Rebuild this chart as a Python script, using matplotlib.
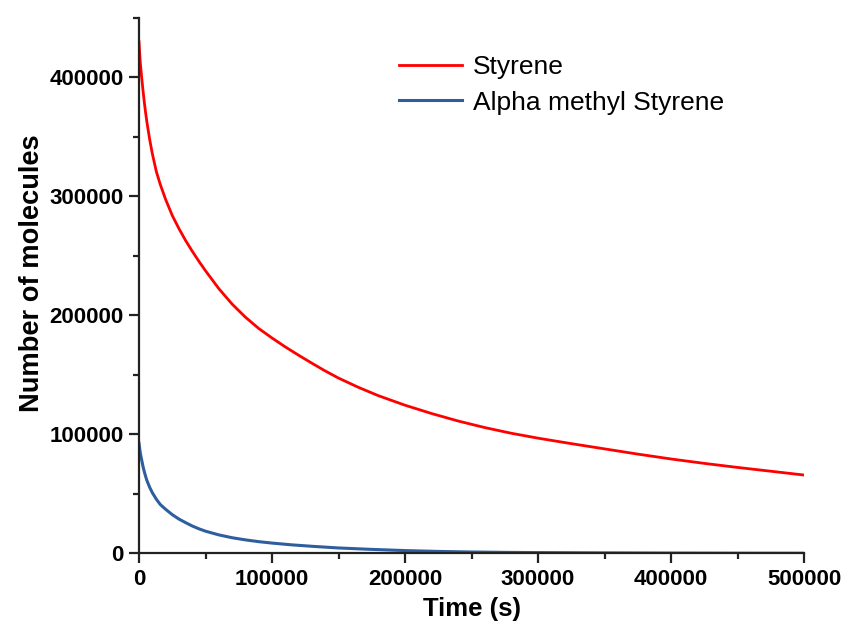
import matplotlib
matplotlib.use("Agg")
import matplotlib.pyplot as plt
from matplotlib.ticker import MultipleLocator

time_s = [0, 500, 1000, 2000, 3000, 4000, 5000, 6000, 8000, 10000, 13000,
          16000, 20000, 25000, 30000, 35000, 40000, 45000, 50000, 60000,
          70000, 80000, 90000, 100000, 110000, 120000, 130000, 140000, 150000,
          165000, 180000, 200000, 220000, 240000, 260000, 280000, 300000,
          325000, 350000, 375000, 400000, 425000, 450000, 475000, 500000]
styrene = [430000, 420000, 412000, 400000, 389000, 379000, 370000, 362000,
           348000, 336000, 321000, 310000, 297500, 284000, 273000, 263000,
           254000, 245500, 237500, 222500, 209500, 198500, 189000, 181000,
           173500, 166500, 159800, 153300, 147300, 139500, 132500, 124500,
           117500, 111200, 105700, 100900, 96800, 92200, 87800, 83400, 79300,
           75600, 72200, 69000, 65800]
alpha_time_s = [0, 500, 1000, 2000, 3000, 4000, 5000, 6000, 8000, 10000,
                13000, 16000, 20000, 25000, 30000, 35000, 40000, 45000, 50000,
                60000, 70000, 80000, 90000, 100000, 115000, 130000, 150000,
                175000, 200000, 225000, 250000, 275000, 300000, 350000,
                400000, 450000, 500000]
alpha_methyl_styrene = [92500, 88000, 84000, 78500, 73000, 68500, 64500, 61000,
                        55500, 51000, 45500, 41000, 37000, 32500, 28800, 25800,
                        23000, 20600, 18600, 15500, 13100, 11300, 9800, 8600,
                        7100, 5900, 4500, 3300, 2300, 1600, 1100, 800, 600,
                        350, 200, 100, 50]
x_ticks = [0, 100000, 200000, 300000, 400000, 500000]
y_ticks = [0, 100000, 200000, 300000, 400000]

plt.rcParams['font.family'] = ['Liberation Sans', 'DejaVu Sans']

fig = plt.figure(figsize=(8.42, 6.25), dpi=100)
ax = fig.add_axes([0.1651, 0.1147, 0.7898, 0.8565])

ax.plot(time_s, styrene, color='#FF0000', lw=2.0, label='Styrene')
ax.plot(alpha_time_s, alpha_methyl_styrene, color='#2E5E9E', lw=2.2,
        label='Alpha methyl Styrene')

ax.set_xlim(0, 500000)
ax.set_ylim(0, 450000)
ax.set_xticks(x_ticks)
ax.set_yticks(y_ticks)
ax.set_xticklabels([str(v) for v in x_ticks])
ax.set_yticklabels([str(v) for v in y_ticks])
ax.xaxis.set_minor_locator(MultipleLocator(50000))
ax.yaxis.set_minor_locator(MultipleLocator(50000))

for s in ['top', 'right']:
    ax.spines[s].set_visible(False)
for s in ['left', 'bottom']:
    ax.spines[s].set_linewidth(1.6)
    ax.spines[s].set_color('#222222')

ax.tick_params(which='major', direction='out', length=7, width=1.6,
               labelsize=16, pad=4, colors='#222222', labelcolor='black')
ax.tick_params(which='minor', direction='out', length=4, width=1.6,
               colors='#222222')
for lab in ax.get_xticklabels() + ax.get_yticklabels():
    lab.set_fontweight('bold')

ax.set_xlabel('Time (s)', fontsize=18.5, fontweight='bold', labelpad=5)
ax.set_ylabel('Number of molecules', fontsize=19.6, fontweight='bold')
ax.yaxis.set_label_coords(-0.142, 0.523)

leg = ax.legend(loc='upper left', bbox_to_anchor=(0.375, 0.951), frameon=False,
                fontsize=19, handlelength=2.4, handletextpad=0.4,
                labelspacing=0.45, borderaxespad=0)

fig.savefig('out.png', dpi=100, facecolor='white')
